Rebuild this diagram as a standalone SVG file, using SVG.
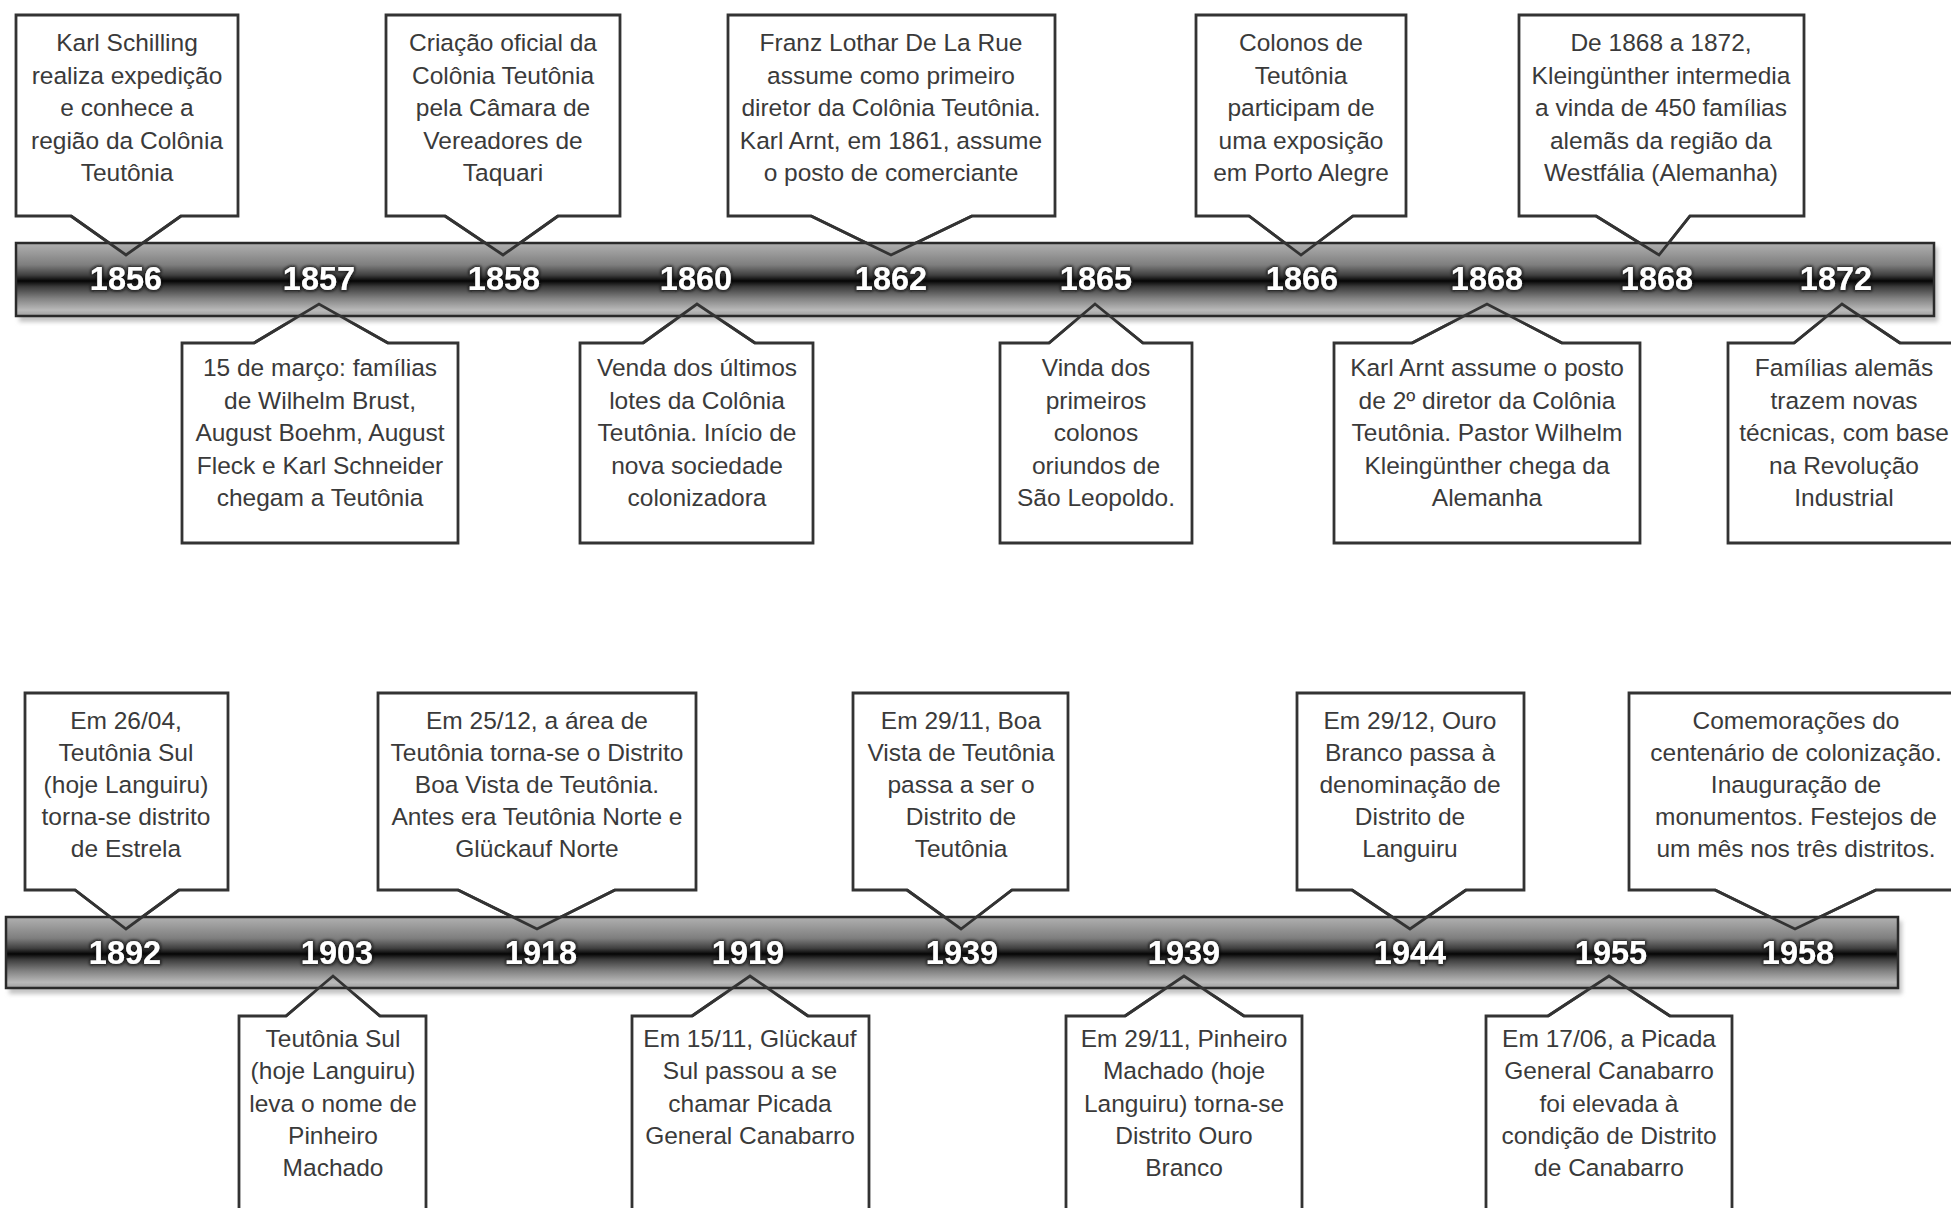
<svg xmlns="http://www.w3.org/2000/svg" width="1951" height="1208" viewBox="0 0 1951 1208">
<defs>
<linearGradient id="barGrad" x1="0" y1="0" x2="0" y2="1">
<stop offset="0" stop-color="#b0b0b0"/>
<stop offset="0.1" stop-color="#a0a0a0"/>
<stop offset="0.3" stop-color="#7e7e7e"/>
<stop offset="0.44" stop-color="#404040"/>
<stop offset="0.52" stop-color="#050505"/>
<stop offset="0.6" stop-color="#3c3c3c"/>
<stop offset="0.76" stop-color="#828282"/>
<stop offset="0.92" stop-color="#bababa"/>
<stop offset="1" stop-color="#a0a0a0"/>
</linearGradient>
<filter id="glow" x="-20%" y="-40%" width="140%" height="180%">
<feMorphology in="SourceAlpha" operator="dilate" radius="1.3" result="d"/>
<feGaussianBlur in="d" stdDeviation="1.6" result="b"/>
<feFlood flood-color="#111111" flood-opacity="0.95"/>
<feComposite in2="b" operator="in" result="s"/>
<feMerge><feMergeNode in="s"/><feMergeNode in="SourceGraphic"/></feMerge>
</filter>
<filter id="soft" x="-5%" y="-50%" width="110%" height="200%">
<feGaussianBlur stdDeviation="2"/>
</filter>
<style>
.box{fill:#ffffff;stroke:#333333;stroke-width:2.8;stroke-linejoin:miter}
.tail{fill:none;stroke:#333333;stroke-width:2.8;stroke-linejoin:miter}
.bar{fill:url(#barGrad);stroke:#2a2a2a;stroke-width:2.5}
.shadow{fill:#c4c4c4;filter:url(#soft)}
.t{font-family:"Liberation Sans",Arial,sans-serif;font-size:24.5px;fill:#3a3a3a;text-anchor:middle}
.yr{font-family:"Liberation Sans",Arial,sans-serif;font-size:32.5px;font-weight:bold;fill:#ffffff;text-anchor:middle;filter:url(#glow)}
</style>
</defs>
<rect width="1951" height="1208" fill="#ffffff"/>

<!-- ===== Top section: upper callouts ===== -->
<g id="ev-1856">
<polygon class="box" points="16,15 238,15 238,216 181,216 126,255 71,216 16,216"/>
<text class="t"><tspan x="127" y="51">Karl Schilling</tspan><tspan x="127" y="83.5">realiza expedição</tspan><tspan x="127" y="116">e conhece a</tspan><tspan x="127" y="148.5">região da Colônia</tspan><tspan x="127" y="181">Teutônia</tspan></text>
</g>
<g id="ev-1858">
<polygon class="box" points="386,15 620,15 620,216 558,216 503,255 445,216 386,216"/>
<text class="t"><tspan x="503" y="51">Criação oficial da</tspan><tspan x="503" y="83.5">Colônia Teutônia</tspan><tspan x="503" y="116">pela Câmara de</tspan><tspan x="503" y="148.5">Vereadores de</tspan><tspan x="503" y="181">Taquari</tspan></text>
</g>
<g id="ev-1862">
<polygon class="box" points="728,15 1055,15 1055,216 972,216 891,255 811,216 728,216"/>
<text class="t"><tspan x="891" y="51">Franz Lothar De La Rue</tspan><tspan x="891" y="83.5">assume como primeiro</tspan><tspan x="891" y="116">diretor da Colônia Teutônia.</tspan><tspan x="891" y="148.5">Karl Arnt, em 1861, assume</tspan><tspan x="891" y="181">o posto de comerciante</tspan></text>
</g>
<g id="ev-1866">
<polygon class="box" points="1196,15 1406,15 1406,216 1353,216 1301,255 1249,216 1196,216"/>
<text class="t"><tspan x="1301" y="51">Colonos de</tspan><tspan x="1301" y="83.5">Teutônia</tspan><tspan x="1301" y="116">participam de</tspan><tspan x="1301" y="148.5">uma exposição</tspan><tspan x="1301" y="181">em Porto Alegre</tspan></text>
</g>
<g id="ev-1868b">
<polygon class="box" points="1519,15 1804,15 1804,216 1690,216 1659,255 1596,216 1519,216"/>
<text class="t"><tspan x="1661" y="51">De 1868 a 1872,</tspan><tspan x="1661" y="83.5">Kleingünther intermedia</tspan><tspan x="1661" y="116">a vinda de 450 famílias</tspan><tspan x="1661" y="148.5">alemãs da região da</tspan><tspan x="1661" y="181">Westfália (Alemanha)</tspan></text>
</g>

<!-- ===== Top section: lower callouts ===== -->
<g id="ev-1857">
<polygon class="box" points="182,343 254,343 319,304 388,343 458,343 458,543 182,543"/>
<text class="t"><tspan x="320" y="376">15 de março: famílias</tspan><tspan x="320" y="408.5">de Wilhelm Brust,</tspan><tspan x="320" y="441">August Boehm, August</tspan><tspan x="320" y="473.5">Fleck e Karl Schneider</tspan><tspan x="320" y="506">chegam a Teutônia</tspan></text>
</g>
<g id="ev-1860">
<polygon class="box" points="580,343 643,343 697,304 755,343 813,343 813,543 580,543"/>
<text class="t"><tspan x="697" y="376">Venda dos últimos</tspan><tspan x="697" y="408.5">lotes da Colônia</tspan><tspan x="697" y="441">Teutônia. Início de</tspan><tspan x="697" y="473.5">nova sociedade</tspan><tspan x="697" y="506">colonizadora</tspan></text>
</g>
<g id="ev-1865">
<polygon class="box" points="1000,343 1049,343 1095,304 1143,343 1192,343 1192,543 1000,543"/>
<text class="t"><tspan x="1096" y="376">Vinda dos</tspan><tspan x="1096" y="408.5">primeiros</tspan><tspan x="1096" y="441">colonos</tspan><tspan x="1096" y="473.5">oriundos de</tspan><tspan x="1096" y="506">São Leopoldo.</tspan></text>
</g>
<g id="ev-1868a">
<polygon class="box" points="1334,343 1412,343 1487,304 1562,343 1640,343 1640,543 1334,543"/>
<text class="t"><tspan x="1487" y="376">Karl Arnt assume o posto</tspan><tspan x="1487" y="408.5">de 2º diretor da Colônia</tspan><tspan x="1487" y="441">Teutônia. Pastor Wilhelm</tspan><tspan x="1487" y="473.5">Kleingünther chega da</tspan><tspan x="1487" y="506">Alemanha</tspan></text>
</g>
<g id="ev-1872">
<polygon class="box" points="1728,343 1794,343 1842,304 1900,343 1965,343 1965,543 1728,543"/>
<text class="t"><tspan x="1844" y="376">Famílias alemãs</tspan><tspan x="1844" y="408.5">trazem novas</tspan><tspan x="1844" y="441">técnicas, com base</tspan><tspan x="1844" y="473.5">na Revolução</tspan><tspan x="1844" y="506">Industrial</tspan></text>
</g>

<!-- ===== Bottom section: upper callouts ===== -->
<g id="ev-1892">
<polygon class="box" points="25,693 228,693 228,890 179,890 126,929 75,890 25,890"/>
<text class="t"><tspan x="126" y="728.5">Em 26/04,</tspan><tspan x="126" y="760.5">Teutônia Sul</tspan><tspan x="126" y="792.5">(hoje Languiru)</tspan><tspan x="126" y="824.5">torna-se distrito</tspan><tspan x="126" y="856.5">de Estrela</tspan></text>
</g>
<g id="ev-1918">
<polygon class="box" points="378,693 696,693 696,890 615,890 537,929 458,890 378,890"/>
<text class="t"><tspan x="537" y="728.5">Em 25/12, a área de</tspan><tspan x="537" y="760.5">Teutônia torna-se o Distrito</tspan><tspan x="537" y="792.5">Boa Vista de Teutônia.</tspan><tspan x="537" y="824.5">Antes era Teutônia Norte e</tspan><tspan x="537" y="856.5">Glückauf Norte</tspan></text>
</g>
<g id="ev-1939a">
<polygon class="box" points="853,693 1068,693 1068,890 1012,890 961,929 907,890 853,890"/>
<text class="t"><tspan x="961" y="728.5">Em 29/11, Boa</tspan><tspan x="961" y="760.5">Vista de Teutônia</tspan><tspan x="961" y="792.5">passa a ser o</tspan><tspan x="961" y="824.5">Distrito de</tspan><tspan x="961" y="856.5">Teutônia</tspan></text>
</g>
<g id="ev-1944">
<polygon class="box" points="1297,693 1524,693 1524,890 1466,890 1410,929 1352,890 1297,890"/>
<text class="t"><tspan x="1410" y="728.5">Em 29/12, Ouro</tspan><tspan x="1410" y="760.5">Branco passa à</tspan><tspan x="1410" y="792.5">denominação de</tspan><tspan x="1410" y="824.5">Distrito de</tspan><tspan x="1410" y="856.5">Languiru</tspan></text>
</g>
<g id="ev-1958">
<polygon class="box" points="1629,693 1965,693 1965,890 1876,890 1795,929 1715,890 1629,890"/>
<text class="t"><tspan x="1796" y="728.5">Comemorações do</tspan><tspan x="1796" y="760.5">centenário de colonização.</tspan><tspan x="1796" y="792.5">Inauguração de</tspan><tspan x="1796" y="824.5">monumentos. Festejos de</tspan><tspan x="1796" y="856.5">um mês nos três distritos.</tspan></text>
</g>

<!-- ===== Bottom section: lower callouts ===== -->
<g id="ev-1903">
<polygon class="box" points="239,1016 286,1016 333,976 380,1016 426,1016 426,1225 239,1225"/>
<text class="t"><tspan x="333" y="1047">Teutônia Sul</tspan><tspan x="333" y="1079.3">(hoje Languiru)</tspan><tspan x="333" y="1111.6">leva o nome de</tspan><tspan x="333" y="1143.9">Pinheiro</tspan><tspan x="333" y="1176.2">Machado</tspan></text>
</g>
<g id="ev-1919">
<polygon class="box" points="632,1016 692,1016 750,976 808,1016 869,1016 869,1225 632,1225"/>
<text class="t"><tspan x="750" y="1047">Em 15/11, Glückauf</tspan><tspan x="750" y="1079.3">Sul passou a se</tspan><tspan x="750" y="1111.6">chamar Picada</tspan><tspan x="750" y="1143.9">General Canabarro</tspan></text>
</g>
<g id="ev-1939b">
<polygon class="box" points="1066,1016 1125,1016 1184,976 1244,1016 1302,1016 1302,1225 1066,1225"/>
<text class="t"><tspan x="1184" y="1047">Em 29/11, Pinheiro</tspan><tspan x="1184" y="1079.3">Machado (hoje</tspan><tspan x="1184" y="1111.6">Languiru) torna-se</tspan><tspan x="1184" y="1143.9">Distrito Ouro</tspan><tspan x="1184" y="1176.2">Branco</tspan></text>
</g>
<g id="ev-1955">
<polygon class="box" points="1486,1016 1548,1016 1609,976 1670,1016 1732,1016 1732,1225 1486,1225"/>
<text class="t"><tspan x="1609" y="1047">Em 17/06, a Picada</tspan><tspan x="1609" y="1079.3">General Canabarro</tspan><tspan x="1609" y="1111.6">foi elevada à</tspan><tspan x="1609" y="1143.9">condição de Distrito</tspan><tspan x="1609" y="1176.2">de Canabarro</tspan></text>
</g>

<!-- ===== Timeline bars ===== -->
<g id="timeline-top">
<rect class="shadow" x="19" y="247" width="1919" height="75"/>
<rect class="bar" x="16" y="243" width="1918" height="73"/>
</g>
<g id="timeline-bottom">
<rect class="shadow" x="9" y="921" width="1893" height="73"/>
<rect class="bar" x="6" y="917" width="1892" height="71"/>
</g>

<!-- ===== Connectors (callout pointers over the bars) ===== -->
<g id="connectors">
<polyline class="tail" points="71,216 126,255 181,216"/>
<polyline class="tail" points="445,216 503,255 558,216"/>
<polyline class="tail" points="811,216 891,255 972,216"/>
<polyline class="tail" points="1249,216 1301,255 1353,216"/>
<polyline class="tail" points="1596,216 1659,255 1690,216"/>
<polyline class="tail" points="254,343 319,304 388,343"/>
<polyline class="tail" points="643,343 697,304 755,343"/>
<polyline class="tail" points="1049,343 1095,304 1143,343"/>
<polyline class="tail" points="1412,343 1487,304 1562,343"/>
<polyline class="tail" points="1794,343 1842,304 1900,343"/>
<polyline class="tail" points="75,890 126,929 179,890"/>
<polyline class="tail" points="458,890 537,929 615,890"/>
<polyline class="tail" points="907,890 961,929 1012,890"/>
<polyline class="tail" points="1352,890 1410,929 1466,890"/>
<polyline class="tail" points="1715,890 1795,929 1876,890"/>
<polyline class="tail" points="286,1016 333,976 380,1016"/>
<polyline class="tail" points="692,1016 750,976 808,1016"/>
<polyline class="tail" points="1125,1016 1184,976 1244,1016"/>
<polyline class="tail" points="1548,1016 1609,976 1670,1016"/>
</g>

<!-- ===== Year labels ===== -->
<g id="years-top">
<text class="yr" x="126" y="290">1856</text>
<text class="yr" x="319" y="290">1857</text>
<text class="yr" x="504" y="290">1858</text>
<text class="yr" x="696" y="290">1860</text>
<text class="yr" x="891" y="290">1862</text>
<text class="yr" x="1096" y="290">1865</text>
<text class="yr" x="1302" y="290">1866</text>
<text class="yr" x="1487" y="290">1868</text>
<text class="yr" x="1657" y="290">1868</text>
<text class="yr" x="1836" y="290">1872</text>
</g>
<g id="years-bottom">
<text class="yr" x="125" y="964">1892</text>
<text class="yr" x="337" y="964">1903</text>
<text class="yr" x="541" y="964">1918</text>
<text class="yr" x="748" y="964">1919</text>
<text class="yr" x="962" y="964">1939</text>
<text class="yr" x="1184" y="964">1939</text>
<text class="yr" x="1410" y="964">1944</text>
<text class="yr" x="1611" y="964">1955</text>
<text class="yr" x="1798" y="964">1958</text>
</g>
</svg>
